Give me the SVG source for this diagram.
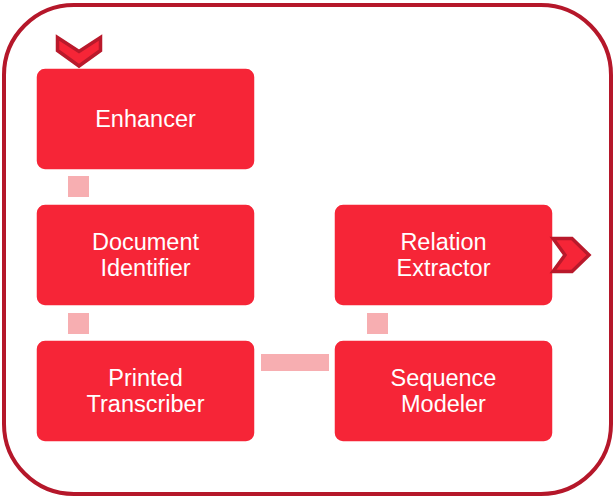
<svg xmlns="http://www.w3.org/2000/svg" width="615" height="500" viewBox="0 0 615 500">
<style>
.node{fill:#f62537;stroke:#ffffff;stroke-width:1.5}
.lbl{fill:#ffffff;font-family:"Liberation Sans",Arial,sans-serif;font-size:23.5px;text-anchor:middle}
.conn{fill:#f7aeb1}
.chev{fill:#f62537;stroke:#b9192b;stroke-width:3.5;stroke-linejoin:miter}
</style>
<rect x="4" y="5" width="607" height="489" rx="70" ry="70" fill="#ffffff" stroke="#b5172a" stroke-width="4"/>
<g id="connectors">
<rect class="conn" x="68" y="176" width="21" height="21"/>
<rect class="conn" x="68" y="313" width="21" height="21"/>
<rect class="conn" x="261" y="354" width="68" height="17"/>
<rect class="conn" x="367" y="313" width="21" height="21"/>
</g>
<g id="enhancer">
<rect class="node" x="36" y="68" width="219" height="102" rx="9"/>
<text class="lbl" x="145.5" y="127">Enhancer</text>
</g>
<g id="document-identifier">
<rect class="node" x="36" y="204" width="219" height="102" rx="9"/>
<text class="lbl" x="145.5" y="250">Document</text>
<text class="lbl" x="145.5" y="276">Identifier</text>
</g>
<g id="printed-transcriber">
<rect class="node" x="36" y="340" width="219" height="102" rx="9"/>
<text class="lbl" x="145.5" y="386">Printed</text>
<text class="lbl" x="145.5" y="412">Transcriber</text>
</g>
<g id="relation-extractor">
<rect class="node" x="334" y="204" width="219" height="102" rx="9"/>
<text class="lbl" x="443.5" y="250">Relation</text>
<text class="lbl" x="443.5" y="276">Extractor</text>
</g>
<g id="sequence-modeler">
<rect class="node" x="334" y="340" width="219" height="102" rx="9"/>
<text class="lbl" x="443.5" y="386">Sequence</text>
<text class="lbl" x="443.5" y="412">Modeler</text>
</g>
<g id="start-chevron">
<path class="chev" d="M57.5,37.5 L79,51.5 L100.5,37.5 L100.5,50.5 L79,66 L57.5,50.5 Z"/>
</g>
<g id="end-chevron">
<path class="chev" d="M553,238.5 L572,238.5 L589,255 L572,271.5 L553,271.5 L565,255 Z"/>
</g>
</svg>
